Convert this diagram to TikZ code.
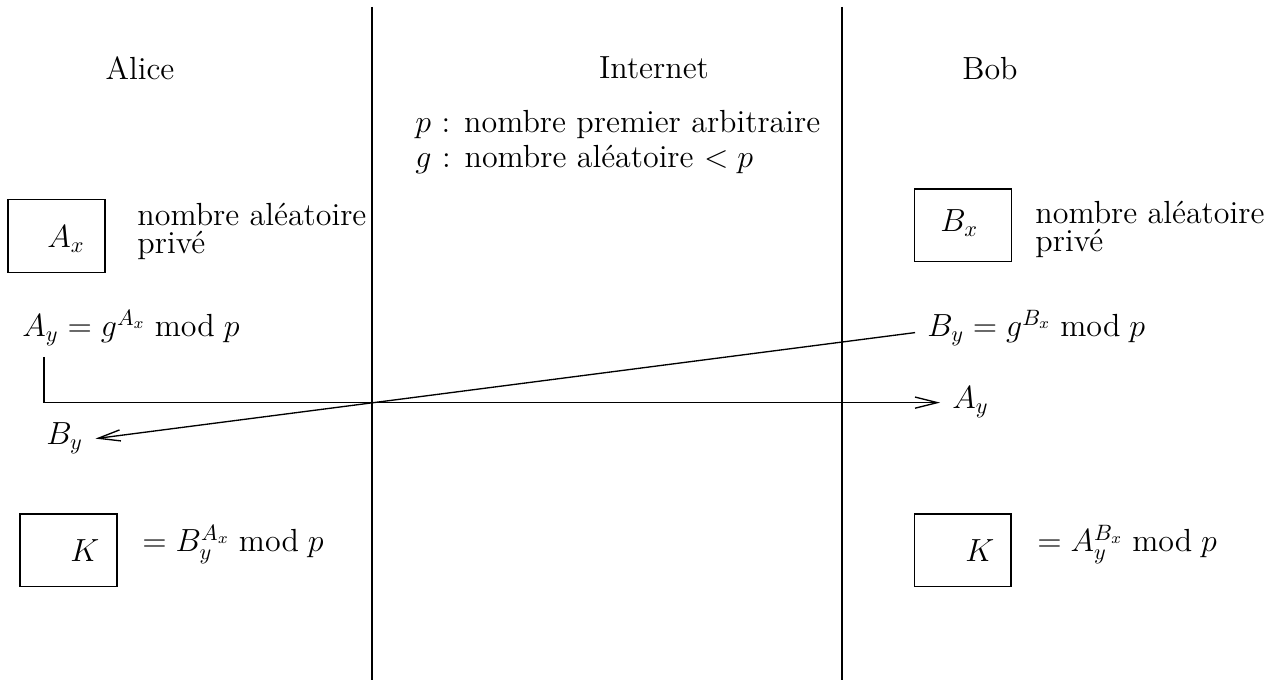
\documentclass[tikz,border=0pt]{standalone}
\usetikzlibrary{arrows.meta,positioning}
\tikzset{
  >={Straight Barb[length=10pt,width=5pt]},
  every node/.style={font=\Large},
  txt/.style={inner sep=0pt},
  gap/.style={inner xsep=5.4pt,inner ysep=0pt},
  keybox/.style={draw,line width=0.5pt,minimum width=43.6pt,minimum height=32.8pt,inner sep=0pt},
  wall/.style={line width=0.6pt},
  msg/.style={->,line width=0.6pt},
}

\begin{document}
\begin{tikzpicture}[x=0.45pt,y=-0.45pt]
\useasboundingbox (0,0) rectangle (1276,680);

% the two walls around the network
\draw[wall] (372,7) -- (372,680);
\draw[wall] (842,7) -- (842,680);

% parties
\node[txt,anchor=base] (alice) at (140,80) {Alice};
\node[txt,anchor=base] (net) at (654,79) {Internet};
\node[txt,anchor=base] (bob) at (990,80) {Bob};

% public parameters
\node[txt,anchor=base west] (prm) at (415,133) {$p$ : nombre premier arbitraire};
\node[txt,anchor=base west] (gen) at (415,168) {$g$ : nombre aléatoire $<p$};

% private numbers
\node[keybox] (boxAx) at (56.5,236) {};
\node[txt,anchor=base west] (ax) at (47,248) {$A_x$};
\node[txt,anchor=north west,align=left] (privA) at (137,203) {nombre aléatoire\\[-5.4pt]privé};

\node[keybox] (boxBx) at (963,225.5) {};
\node[txt,anchor=base west] (bx) at (940,232) {$B_x$};
\node[txt,anchor=north west,align=left] (privB) at (1035,201) {nombre aléatoire\\[-5.4pt]privé};

% public values
\node[txt,anchor=base west] (ayform) at (22,337) {$A_y = g^{A_x} \bmod p$};
\node[gap,anchor=base west] (byform) at (915,337) {$B_y = g^{B_x} \bmod p$};

% received values
\node[gap,anchor=base west] (ayB) at (940,409) {$A_y$};
\node[gap,anchor=base west] (byA) at (34,445) {$B_y$};

\coordinate (ayfoot) at (44,357);
\draw[msg] (ayfoot) |- (ayB.west);
\draw[msg] ([yshift=-2pt]byform.west) -- (byA.east);

% shared key
\node[keybox] (boxKA) at (68.5,550.5) {};
\node[txt,anchor=base west] (kA) at (70,562) {$K$};
\node[txt,anchor=base west] (keyA) at (142,552) {$= B_y^{A_x} \bmod p$};

\node[keybox] (boxKB) at (962.5,550.5) {};
\node[txt,anchor=base west] (kB) at (965,562) {$K$};
\node[txt,anchor=base west] (keyB) at (1037,552) {$= A_y^{B_x} \bmod p$};

\end{tikzpicture}
\end{document}
